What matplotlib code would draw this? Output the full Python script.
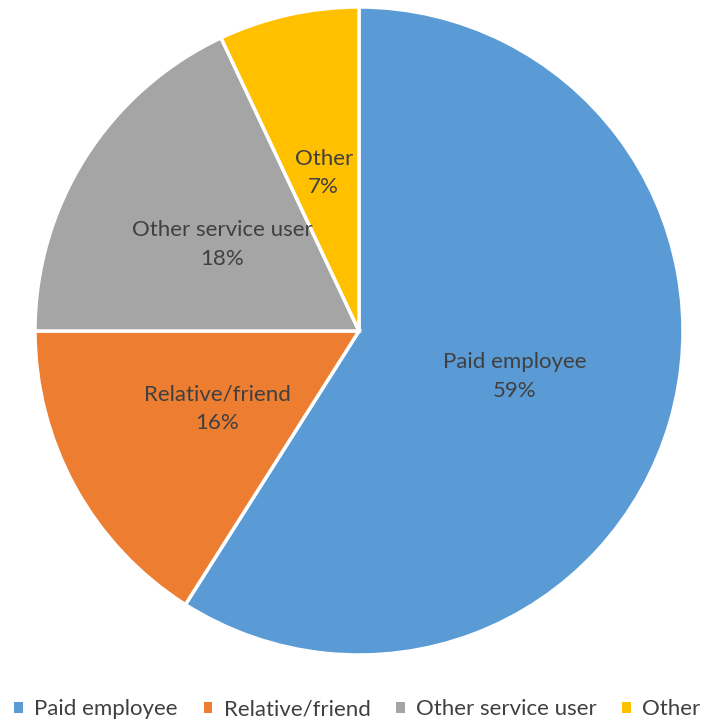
import matplotlib
matplotlib.use('Agg')
import matplotlib.pyplot as plt
from matplotlib.patches import Patch

plt.rcParams['font.family'] = ['Lato', 'DejaVu Sans']

# data
labels = ['Paid employee', 'Relative/friend', 'Other service user', 'Other']
shares = [59, 16, 18, 7]
colors = ['#5B9BD5', '#ED7D31', '#A5A5A5', '#FFC000']
txt_color = '#404040'

fig = plt.figure(figsize=(7.15, 7.26), dpi=100)
ax = fig.add_axes([35/715, 71/726, 648/715, 648/726])

wedges, texts = ax.pie(shares, colors=colors, startangle=90, counterclock=False,
                       labels=['%s\n%d%%' % (l, s) for l, s in zip(labels, shares)],
                       labeldistance=0.5,
                       wedgeprops=dict(edgecolor='white', linewidth=2.5))
for t in texts:
    t.set_ha('center')
    t.set_va('center')
    t.set_fontsize(16)
    t.set_color(txt_color)
    t.set_linespacing(1.55)
ax.set_xlim(-1, 1)
ax.set_ylim(-1, 1)
ax.set_aspect('equal')

handles = [Patch(facecolor=c, edgecolor='none') for c in colors]
fig.legend(handles, labels, loc='lower center', bbox_to_anchor=(0.5, -0.018), ncol=4,
           frameon=False, fontsize=16, labelcolor=txt_color,
           handlelength=0.4, handleheight=0.4, handletextpad=0.5, columnspacing=1.15)

plt.savefig('out.png', dpi=100)
plt.close()
